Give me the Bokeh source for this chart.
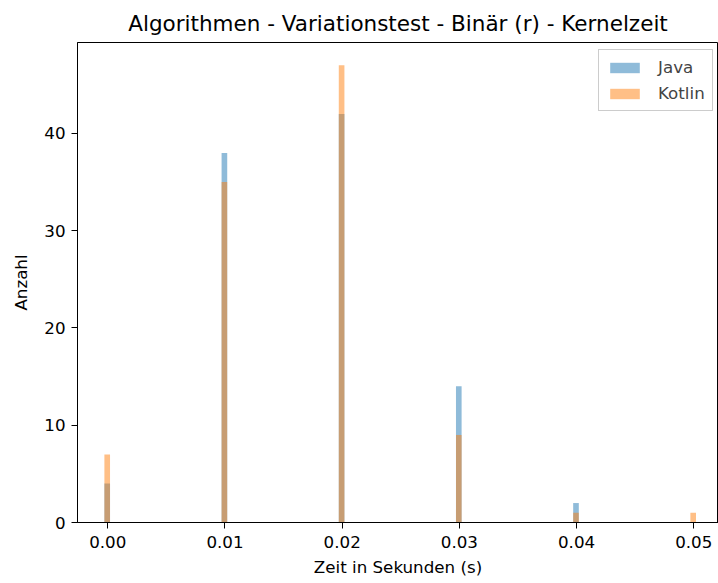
from bokeh.plotting import figure
from bokeh.models import Range1d, FixedTicker, NumeralTickFormatter, Legend, LegendItem
from bokeh.embed import file_html
from bokeh.resources import INLINE

bins = [0.00, 0.01, 0.02, 0.03, 0.04, 0.05]
java = [4, 38, 42, 14, 2, 0]
kotlin = [7, 35, 47, 9, 1, 1]
bin_width = 0.00048
x_ticks = [0.00, 0.01, 0.02, 0.03, 0.04, 0.05]
y_ticks = [0, 10, 20, 30, 40]

FONT = "DejaVu Sans"

p = figure(width=718, height=583, output_backend="svg", toolbar_location=None,
           x_range=Range1d(-0.002585, 0.05211), y_range=Range1d(0, 49.35),
           min_border_left=77, min_border_right=0, min_border_top=42, min_border_bottom=61)

p.title.text = "Algorithmen - Variationstest - Binär (r) - Kernelzeit"
p.title.align = "center"
p.title.text_font = FONT
p.title.text_font_size = "21.5px"
p.title.text_font_style = "normal"
p.title.text_color = "#000000"
p.title.standoff = 14

jl = [b - bin_width / 2 - 0.00005 for b in bins]
jr = [b + bin_width / 2 - 0.00005 for b in bins]
r1 = p.quad(left=jl, right=jr, bottom=0, top=java, fill_color="#1f77b4", fill_alpha=0.5, line_color=None)
r2 = p.quad(left=jl, right=jr, bottom=0, top=kotlin, fill_color="#ff7f0e", fill_alpha=0.5, line_color=None)

legend = Legend(items=[LegendItem(label="Java", renderers=[r1]), LegendItem(label="Kotlin", renderers=[r2])],
                location=(521, 411), label_text_font=FONT, label_text_font_size="16.7px",
                border_line_color="#cccccc", border_line_alpha=1.0, background_fill_alpha=0.8,
                glyph_width=37, glyph_height=13, label_standoff=15, spacing=6, padding=7,
                label_height=20, margin=0)
p.add_layout(legend)

p.xgrid.visible = False
p.ygrid.visible = False

for ax in (p.xaxis, p.yaxis):
    ax.axis_line_color = "#000000"
    ax.major_tick_line_color = "#000000"
    ax.major_tick_out = 6
    ax.major_tick_in = 0
    ax.minor_tick_line_color = None
    ax.major_label_text_font = FONT
    ax.major_label_text_font_size = "16.7px"
    ax.major_label_text_color = "#000000"
    ax.axis_label_text_font = FONT
    ax.axis_label_text_font_size = "16.7px"
    ax.axis_label_text_font_style = "normal"
    ax.axis_label_text_color = "#000000"

p.xaxis.ticker = FixedTicker(ticks=x_ticks)
p.xaxis.formatter = NumeralTickFormatter(format="0.00")
p.yaxis.ticker = FixedTicker(ticks=y_ticks)
p.xaxis.axis_label = "Zeit in Sekunden (s)"
p.yaxis.axis_label = "Anzahl"
p.xaxis.major_label_standoff = 7
p.yaxis.major_label_standoff = 6
p.xaxis.axis_label_standoff = 6
p.yaxis.axis_label_standoff = 10

p.outline_line_color = "#000000"
p.outline_line_alpha = 1.0

open("out.html", "w").write(file_html(p, INLINE))
